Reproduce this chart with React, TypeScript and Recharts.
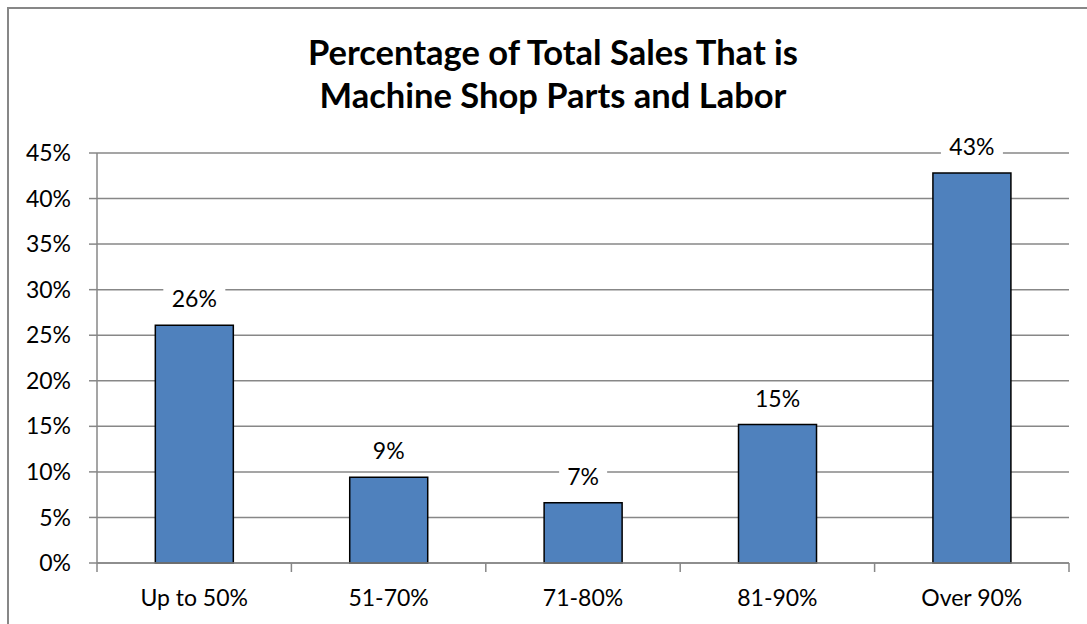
import React from "react";
import {
	Bar,
	BarChart,
	CartesianGrid,
	LabelList,
	XAxis,
	YAxis,
} from "recharts";

const categories = ["Up to 50%", "51-70%", "71-80%", "81-90%", "Over 90%"];
const shares = [0.261, 0.094, 0.066, 0.152, 0.428];
const yTicks = [0, 0.05, 0.1, 0.15, 0.2, 0.25, 0.3, 0.35, 0.4, 0.45];
const titleLines = [
	"Percentage of Total Sales That is",
	"Machine Shop Parts and Labor",
];

const data = categories.map((name, i) => ({ name, value: shares[i] }));

const W = 1087;
const H = 624;
const FONT = "Lato, 'Open Sans', sans-serif";
const GRID = "#878787";
const PLOT_LEFT = 97;
const PLOT_RIGHT = 1069;
const BAND = (PLOT_RIGHT - PLOT_LEFT) / categories.length;
const LABEL_SIZE = 23;

const pct = (v: number) => `${Math.round(v * 100)}%`;

const XTick = (props: any) => {
	const { x, y, payload, index } = props;
	const last = index === categories.length - 1;
	return (
		<g>
			<line x1={x - BAND / 2} x2={x - BAND / 2} y1={y} y2={y + 9} stroke={GRID} strokeWidth={1.5} />
			{last && (
				<line x1={x + BAND / 2} x2={x + BAND / 2} y1={y} y2={y + 9} stroke={GRID} strokeWidth={1.5} />
			)}
			<text x={x} y={y + 43} textAnchor="middle" fontFamily={FONT} fontSize={LABEL_SIZE} fill="#000">
				{payload.value}
			</text>
		</g>
	);
};

const ValueLabel = (props: any) => {
	const { x, y, width, value } = props;
	const cx = x + width / 2;
	const text = pct(value);
	const w = 20 + text.length * 14;
	return (
		<g>
			<rect x={cx - w / 2} y={y - 40} width={w} height={30} fill="#fff" />
			<text x={cx} y={y - 18} textAnchor="middle" fontFamily={FONT} fontSize={LABEL_SIZE} fill="#000">
				{text}
			</text>
		</g>
	);
};

export default function App() {
	return (
		<div
			style={{
				position: "absolute",
				left: 0,
				top: 0,
				width: W,
				height: H,
				overflow: "hidden",
				background: "#fff",
			}}
		>
			<div
				style={{
					position: "absolute",
					left: 7,
					top: 7,
					width: 2000,
					height: 2000,
					borderTop: `2px solid ${GRID}`,
					borderLeft: `2px solid ${GRID}`,
				}}
			/>
			<div
				style={{
					position: "absolute",
					left: 0,
					top: 30,
					width: 1106,
					textAlign: "center",
					fontFamily: FONT,
					fontWeight: 700,
					fontSize: 34.5,
					lineHeight: "43px",
					color: "#000",
				}}
			>
				{titleLines.map((line) => (
					<div key={line}>{line}</div>
				))}
			</div>
			<div style={{ position: "absolute", left: 0, top: 0 }}>
				<BarChart
					width={W}
					height={H}
					data={data}
					margin={{ top: 153, right: W - PLOT_RIGHT, bottom: 0, left: 0 }}
					barCategoryGap="30%"
				>
					<CartesianGrid vertical={false} stroke={GRID} strokeWidth={1.5} />
					<XAxis
						dataKey="name"
						height={61}
						axisLine={{ stroke: GRID, strokeWidth: 1.5 }}
						tickLine={false}
						tickSize={0}
						tickMargin={0}
						interval={0}
						tick={<XTick />}
					/>
					<YAxis
						width={PLOT_LEFT}
						domain={[0, 0.45]}
						ticks={yTicks}
						interval={0}
						tickFormatter={pct}
						axisLine={{ stroke: GRID, strokeWidth: 1.5 }}
						tickLine={{ stroke: GRID, strokeWidth: 1.5 }}
						tickSize={8}
						tickMargin={18}
						tick={{ fontFamily: FONT, fontSize: LABEL_SIZE, fill: "#000" }}
					/>
					<Bar
						dataKey="value"
						fill="#4F81BD"
						stroke="#000"
						strokeWidth={1.5}
						isAnimationActive={false}
					>
						<LabelList dataKey="value" content={<ValueLabel />} />
					</Bar>
				</BarChart>
			</div>
		</div>
	);
}
